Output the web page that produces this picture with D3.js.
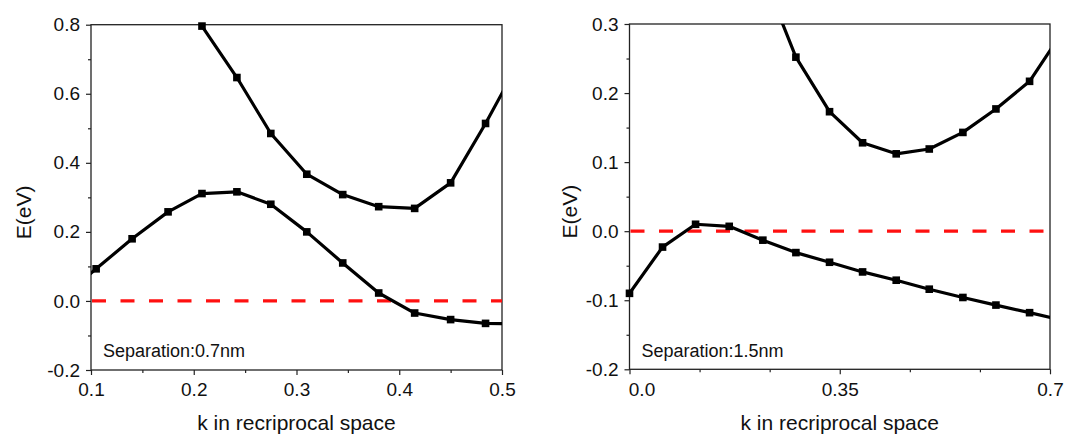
<!DOCTYPE html>
<html>
<head>
<meta charset="utf-8">
<script src="https://cdn.jsdelivr.net/npm/d3@7"></script>
<style>
  body { margin: 0; background: #fff; }
  svg { font-family: "Liberation Sans", Arial, sans-serif; }
</style>
</head>
<body>
<svg id="chart" width="1067" height="435"></svg>
<script>
// panel 1: separation 0.7 nm
const k1 = [0.07, 0.105, 0.14, 0.175, 0.208, 0.242, 0.275, 0.31, 0.345, 0.38, 0.415, 0.45, 0.484, 0.518];
const valence1 = [0.005, 0.093, 0.180, 0.258, 0.311, 0.316, 0.280, 0.200, 0.110, 0.023, -0.035, -0.054, -0.065, -0.067];
const kc1 = [0.175, 0.208, 0.242, 0.275, 0.31, 0.345, 0.38, 0.415, 0.45, 0.484, 0.518];
const conduction1 = [0.95, 0.796, 0.647, 0.485, 0.367, 0.308, 0.273, 0.268, 0.342, 0.514, 0.70];
const xTicks1 = [0.1, 0.2, 0.3, 0.4, 0.5];
const yTicks1 = [-0.2, 0.0, 0.2, 0.4, 0.6, 0.8];

// panel 2: separation 1.5 nm
const k2 = [0.0, 0.055, 0.110, 0.166, 0.222, 0.277, 0.333, 0.388, 0.444, 0.499, 0.555, 0.610, 0.666, 0.721];
const valence2 = [-0.090, -0.023, 0.010, 0.007, -0.013, -0.031, -0.045, -0.059, -0.071, -0.084, -0.096, -0.107, -0.118, -0.129];
const kc2 = [0.222, 0.277, 0.333, 0.388, 0.444, 0.499, 0.555, 0.610, 0.666, 0.721];
const conduction2 = [0.372, 0.252, 0.173, 0.128, 0.112, 0.119, 0.143, 0.177, 0.217, 0.289];
const xTicks2 = [0.0, 0.35, 0.7];
const yTicks2 = [-0.2, -0.1, 0.0, 0.1, 0.2, 0.3];

const svg = d3.select("#chart");
const fmt1 = d => d3.format(".1f")(d).replace("\u2212", "-");

function panel(opt) {
  const {id, left, right, top, bottom, xDomain, yDomain, xTicks, xMinor, yTicks, yMinor, series, label, yLabelX, xFmt, yFmt} = opt;
  const x = d3.scaleLinear().domain(xDomain).range([left, right]);
  const y = d3.scaleLinear().domain(yDomain).range([bottom, top]);
  const g = svg.append("g");

  g.append("clipPath").attr("id", id)
    .append("rect")
    .attr("x", left).attr("y", top)
    .attr("width", right - left).attr("height", bottom - top);

  // minor ticks
  g.append("g")
    .attr("transform", `translate(0,${bottom})`)
    .call(d3.axisBottom(x).tickValues(xMinor).tickSize(3).tickFormat(""))
    .call(a => a.select(".domain").remove());
  g.append("g")
    .attr("transform", `translate(${left},0)`)
    .call(d3.axisLeft(y).tickValues(yMinor).tickSize(3).tickFormat(""))
    .call(a => a.select(".domain").remove());

  // major ticks
  const xa = g.append("g")
    .attr("transform", `translate(0,${bottom})`)
    .call(d3.axisBottom(x).tickValues(xTicks).tickSize(5).tickPadding(8).tickFormat(xFmt))
    .call(a => a.select(".domain").remove());
  xa.selectAll("text").attr("font-size", 19).attr("fill", "#111");
  if (opt.firstLabelShift) xa.select(".tick text").attr("dx", opt.firstLabelShift);

  const ya = g.append("g")
    .attr("transform", `translate(${left},0)`)
    .call(d3.axisLeft(y).tickValues(yTicks).tickSize(5).tickPadding(6).tickFormat(yFmt))
    .call(a => a.select(".domain").remove());
  ya.selectAll("text").attr("font-size", 19).attr("fill", "#111");

  g.selectAll(".tick line").attr("stroke", "#222").attr("stroke-width", 1.2);

  // frame
  g.append("rect")
    .attr("x", left).attr("y", top)
    .attr("width", right - left).attr("height", bottom - top)
    .attr("fill", "none").attr("stroke", "#222").attr("stroke-width", 1.3);

  // fermi level
  g.append("line")
    .attr("x1", x(xDomain[0]) + 1).attr("x2", x(xDomain[1]))
    .attr("y1", y(0)).attr("y2", y(0))
    .attr("stroke", "#ff1010").attr("stroke-width", 3.3)
    .attr("stroke-dasharray", "14,14.5");

  const line = d3.line().x(d => x(d[0])).y(d => y(d[1]));
  const plot = g.append("g").attr("clip-path", `url(#${id})`);
  series.forEach(s => {
    const pts = d3.zip(s.k, s.e);
    plot.append("path")
      .datum(pts)
      .attr("fill", "none")
      .attr("stroke", "#000")
      .attr("stroke-width", 3.2)
      .attr("stroke-linejoin", "round")
      .attr("d", line);
    g.append("g").selectAll("rect")
      .data(pts.filter(d => d[0] >= xDomain[0] - 0.001 && d[0] <= xDomain[1] && d[1] <= yDomain[1] + 0.005))
      .join("rect")
      .attr("x", d => x(d[0]) - 3.8)
      .attr("y", d => y(d[1]) - 3.8)
      .attr("width", 7.6).attr("height", 7.6)
      .attr("fill", "#000");
  });

  g.append("text")
    .attr("x", left + 12).attr("y", 357)
    .attr("font-size", 18).attr("fill", "#111")
    .text(label);

  g.append("text")
    .attr("x", (left + right) / 2).attr("y", 430)
    .attr("text-anchor", "middle")
    .attr("font-size", 21).attr("fill", "#111")
    .text("k in recriprocal space");

  g.append("text")
    .attr("transform", `translate(${yLabelX},${(top + bottom) / 2 + 15}) rotate(-90)`)
    .attr("text-anchor", "middle")
    .attr("font-size", 21).attr("fill", "#111")
    .text("E(eV)");
}

panel({
  id: "clip1", left: 91, right: 502, top: 24.7, bottom: 370,
  xDomain: [0.1, 0.5], yDomain: [-0.2, 0.8],
  xTicks: xTicks1, xMinor: [0.15, 0.25, 0.35, 0.45],
  yTicks: yTicks1, yMinor: [-0.1, 0.1, 0.3, 0.5, 0.7],
  xFmt: fmt1, yFmt: fmt1,
  series: [{k: k1, e: valence1}, {k: kc1, e: conduction1}],
  label: "Separation:0.7nm", yLabelX: 31
});

panel({
  id: "clip2", left: 629.5, right: 1050, top: 24, bottom: 369.3,
  xDomain: [0, 0.7], yDomain: [-0.2, 0.3],
  xTicks: xTicks2, xMinor: [0.7 / 6, 1.4 / 6, 2.8 / 6, 3.5 / 6],
  yTicks: yTicks2, yMinor: [-0.15, -0.05, 0.05, 0.15, 0.25],
  xFmt: d => d === 0 ? "0.0" : d === 0.7 ? "0.7" : "0.35", yFmt: fmt1,
  series: [{k: k2, e: valence2}, {k: kc2, e: conduction2}],
  label: "Separation:1.5nm", yLabelX: 577, firstLabelShift: 12
});
</script>
</body>
</html>
